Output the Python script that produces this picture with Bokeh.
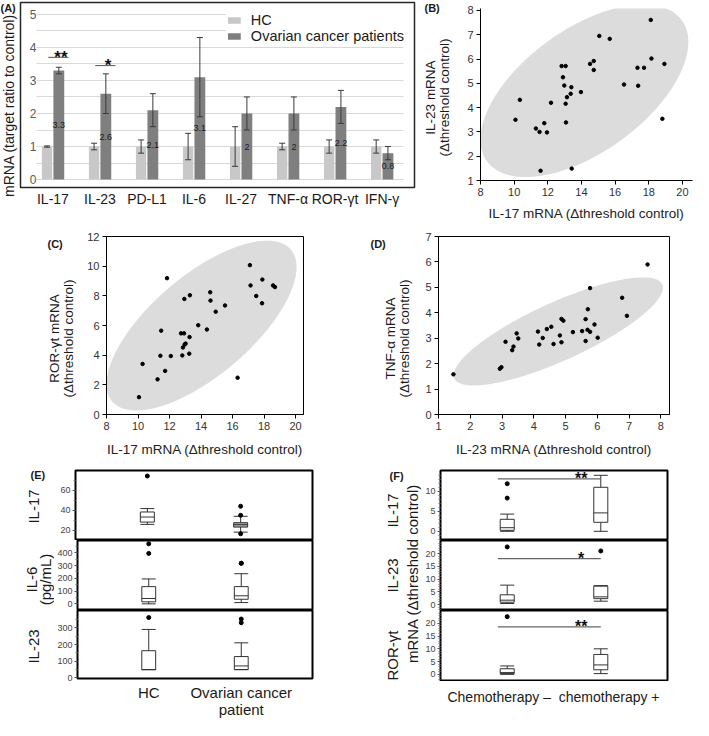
import numpy as np
from math import pi
from bokeh.plotting import figure
from bokeh.models import (ColumnDataSource, FactorRange, Range1d, FixedTicker,
                          SingleIntervalTicker, Label, Legend, LegendItem)
from bokeh.layouts import row, column
from bokeh.transform import dodge
from bokeh.core.properties import value
from bokeh.embed import file_html
from bokeh.resources import INLINE

FONT = "Liberation Sans"

# ---------------- Panel A data ----------------
A_CATS = ["IL-17", "IL-23", "PD-L1", "IL-6", "IL-27", "TNF-α", "ROR-γt", "IFN-γ"]
A_HC = [1, 1, 1, 1, 1, 1, 1, 1]
A_HC_ERR = [0.02, 0.1, 0.2, 0.4, 0.6, 0.1, 0.2, 0.2]
A_OC = [3.3, 2.6, 2.1, 3.1, 2.0, 2.0, 2.2, 0.8]
A_OC_ERR = [0.1, 0.6, 0.5, 1.2, 0.5, 0.5, 0.5, 0.2]
A_OC_LABELS = ["3.3", "2.6", "2.1", "3.1", "2", "2", "2.2", "0.8"]
A_YTICKS = [0, 1, 2, 3, 4, 5]
A_SIG_CATS = ["IL-17", "IL-23"]
A_SIG_Y = [3.7, 3.45]
A_SIG_TEXT = ["**", "*"]

# ---------------- Panel B data (IL-17 vs IL-23) ----------------
B_X = [10.08, 10.34, 11.29, 11.51, 11.79, 11.95, 11.57, 12.19, 12.82, 13.06, 12.90,
       12.98, 13.06, 13.08, 13.14, 13.36, 13.40, 13.42, 13.97, 14.51, 14.73, 14.73,
       15.06, 15.68, 16.53, 17.33, 17.37, 17.72, 18.12, 18.16, 18.93, 18.81]
B_Y = [3.50, 4.32, 3.14, 3.00, 3.36, 2.98, 1.40, 4.20, 5.71, 5.71, 5.25,
       4.91, 4.16, 3.39, 4.43, 4.57, 4.84, 1.49, 4.64, 5.80, 5.92, 5.55,
       6.95, 6.83, 4.95, 5.64, 4.90, 5.64, 7.61, 6.02, 5.80, 3.54]
B_XTICKS = [8, 10, 12, 14, 16, 18, 20]
B_YTICKS = [1, 2, 3, 4, 5, 6, 7, 8]

# ---------------- Panel C data (IL-17 vs ROR-γt) ----------------
C_X = [10.06, 10.29, 11.24, 11.42, 11.47, 11.72, 11.84, 12.08, 12.73, 12.92, 12.81,
       12.85, 12.96, 13.02, 12.94, 13.27, 13.25, 13.29, 13.82, 14.37, 14.58, 14.60,
       14.93, 15.52, 16.32, 17.10, 17.14, 17.50, 17.89, 17.87, 18.57, 18.69]
C_Y = [1.17, 3.41, 2.37, 3.96, 5.65, 2.94, 9.19, 3.94, 5.47, 5.47, 3.98,
       4.52, 4.72, 4.78, 7.79, 5.22, 4.10, 8.04, 6.02, 5.73, 8.24, 7.68,
       6.93, 7.35, 2.48, 10.07, 8.70, 7.99, 9.10, 7.50, 8.70, 8.59]
C_XTICKS = [8, 10, 12, 14, 16, 18, 20]
C_YTICKS = [0, 2, 4, 6, 8, 10, 12]

# ---------------- Panel D data (IL-23 vs TNF-α) ----------------
D_X = [1.47, 2.93, 2.98, 3.11, 3.32, 3.36, 3.46, 3.51, 4.13, 4.17, 4.28, 4.41, 4.55,
       4.62, 4.82, 4.87, 4.87, 4.93, 5.23, 5.52, 5.63, 5.63, 5.69, 5.70, 5.77, 5.77,
       5.91, 6.01, 6.78, 6.93, 7.58]
D_Y = [1.58, 1.80, 1.86, 2.86, 2.53, 2.67, 3.19, 2.99, 3.26, 2.75, 3.01, 3.36, 3.45,
       2.77, 3.11, 2.84, 3.76, 3.69, 3.24, 3.28, 3.75, 2.89, 3.33, 4.14, 3.25, 4.97,
       3.54, 3.02, 4.59, 3.88, 5.90]
D_XTICKS = [1, 2, 3, 4, 5, 6, 7, 8]
D_YTICKS = [0, 1, 2, 3, 4, 5, 6, 7]

# ---------------- Panel E data (serum cytokines, pg/mL) ----------------
E_CATS = ["HC", "Ovarian cancer\npatient"]
E17_LO, E17_Q1, E17_MED, E17_Q3, E17_HI = [26, 18.3], [28.3, 23.3], [33.3, 25.7], [38.3, 27.7], [41.7, 34]
E17_OUT_CAT = ["HC", "Ovarian cancer\npatient", "Ovarian cancer\npatient", "Ovarian cancer\npatient"]
E17_OUT_VAL = [74, 44, 35, 16.7]
E6_LO, E6_Q1, E6_MED, E6_Q3, E6_HI = [0, 10], [16, 36], [42, 63], [135, 135], [195, 236]
E6_OUT_CAT = ["HC", "HC", "Ovarian cancer\npatient", "Ovarian cancer\npatient"]
E6_OUT_VAL = [470, 395, 318, 318]
E23_LO, E23_Q1, E23_MED, E23_Q3, E23_HI = [50, 50], [50, 50], [50, 72], [163, 128], [290, 210]
E23_OUT_CAT = ["HC", "Ovarian cancer\npatient", "Ovarian cancer\npatient"]
E23_OUT_VAL = [361, 352, 330]
E17_TICKS, E6_TICKS, E23_TICKS = [20, 40, 60], [0, 100, 200, 300, 400], [0, 100, 200, 300]

# ---------------- Panel F data (mRNA by chemotherapy) ----------------
F_CATS = ["Chemotherapy –", "chemotherapy +"]
F17_LO, F17_Q1, F17_MED, F17_Q3, F17_HI = [0, 0], [0.25, 2.25], [0.9, 4.6], [3.0, 11.0], [4.3, 14.0]
F17_OUT_CAT = ["Chemotherapy –", "Chemotherapy –"]
F17_OUT_VAL = [11.9, 8.3]
F23_LO, F23_Q1, F23_MED, F23_Q3, F23_HI = [0.4, 1.3], [0.9, 2.3], [1.7, 3.0], [3.8, 7.2], [7.6, 7.4]
F23_OUT_CAT = ["Chemotherapy –", "chemotherapy +"]
F23_OUT_VAL = [22.6, 21.0]
FR_LO, FR_Q1, FR_MED, FR_Q3, FR_HI = [0, 0.3], [0.3, 1.8], [0.7, 3.7], [2.2, 7.8], [3.3, 10.0]
FR_OUT_CAT = ["Chemotherapy –"]
FR_OUT_VAL = [22.6]
F17_TICKS, F23_TICKS, FR_TICKS = [0, 5, 10], [0, 5, 10, 15, 20], [0, 5, 10, 15, 20]
F_SIG_Y = [13.1, 18.0, 18.6]
F_SIG_TEXT = ["**", "*", "**"]

# ---------------- helpers ----------------
BOXC = "#333333"


def mkfig(width, height, x_range, y_range, left, right, top, bottom, **kw):
    p = figure(width=width, height=height, x_range=x_range, y_range=y_range,
               output_backend="svg", toolbar_location=None,
               min_border_left=left, min_border_right=right,
               min_border_top=top, min_border_bottom=bottom, **kw)
    try:
        p.frame_align = False
    except Exception:
        pass
    p.background_fill_color = "white"
    p.border_fill_color = "white"
    p.xgrid.grid_line_color = None
    p.ygrid.grid_line_color = None
    return p


def labfig(width, height):
    p = mkfig(width, height, Range1d(0, 1), Range1d(0, 1), 0, 0, 0, 0,
              x_axis_location=None, y_axis_location=None)
    p.outline_line_color = None
    return p


def lab(p, x, y, text, size, angle=0.0, align="center", baseline="middle",
        bold=False, color="#1a1a1a", lh=1.0):
    p.add_layout(Label(x=x, y=y, x_units="screen", y_units="screen", text=text,
                       angle=angle, text_align=align, text_baseline=baseline,
                       text_font=FONT, text_font_size=f"{size}px",
                       text_font_style="bold" if bold else "normal",
                       text_color=color, text_line_height=lh))


def style_axis(ax, tick_size, tick_color="#333333", line=True, tick_out=4):
    ax.major_label_text_font = FONT
    ax.major_label_text_font_size = f"{tick_size}px"
    ax.major_label_text_color = tick_color
    ax.axis_label_text_font = FONT
    ax.axis_label_text_font_style = "normal"
    ax.axis_label_text_color = "#222222"
    ax.major_tick_in = 0
    ax.major_tick_out = tick_out
    ax.minor_tick_line_color = None
    if not line:
        ax.axis_line_color = None


def ellipse(xs, ys, conf=0.95, n=240):
    x = np.asarray(xs, float)
    y = np.asarray(ys, float)
    cov = np.cov(x, y)
    vals, vecs = np.linalg.eigh(cov)
    k = np.sqrt(-2.0 * np.log(1.0 - conf))
    t = np.linspace(0, 2 * np.pi, n)
    circ = np.vstack([np.cos(t), np.sin(t)])
    pts = vecs @ (np.sqrt(vals)[:, None] * k * circ)
    return x.mean() + pts[0], y.mean() + pts[1]


def scatter_panel(p, xs, ys, xticks, yticks, xlabel, xstand):
    ex, ey = ellipse(xs, ys)
    p.patch(ex, ey, fill_color="#dcdcdc", line_color=None)
    p.scatter(xs, ys, size=3.5, color="black")
    p.xaxis.ticker = FixedTicker(ticks=xticks)
    p.yaxis.ticker = FixedTicker(ticks=yticks)
    for ax in (p.xaxis, p.yaxis):
        style_axis(ax, 11)
        ax.axis_label_text_font_size = "13.5px"
        ax.axis_line_color = "black"
        ax.major_tick_line_color = "black"
        ax.major_label_standoff = 3
    p.xaxis.axis_label = xlabel
    p.xaxis.axis_label_standoff = xstand


def boxes(p, cats, lo, q1, med, q3, hi, fills=None, w=0.15):
    src = ColumnDataSource(dict(cat=cats, lo=lo, q1=q1, med=med, q3=q3, hi=hi,
                                fill=fills or ["white"] * len(cats)))
    p.segment(x0="cat", y0="lo", x1="cat", y1="hi", source=src,
              line_color=BOXC, line_width=1)
    p.vbar(x="cat", bottom="q1", top="q3", width=w, source=src,
           fill_color="fill", line_color=BOXC, line_width=1)
    for col in ("med", "lo", "hi"):
        p.segment(x0=dodge("cat", -w / 2, range=p.x_range), y0=col,
                  x1=dodge("cat", w / 2, range=p.x_range), y1=col, source=src,
                  line_color=BOXC, line_width=1)


def outliers(p, cats, vals):
    p.scatter(x="cat", y="v", source=ColumnDataSource(dict(cat=cats, v=vals)),
              size=4, color="black")


def box_axis(p, ticks, minor):
    p.yaxis.ticker = FixedTicker(ticks=ticks, minor_ticks=minor)
    ax = p.yaxis[0]
    ax.major_label_text_font = FONT
    ax.major_label_text_font_size = "9px"
    ax.major_label_text_color = "#444444"
    ax.major_label_standoff = 2
    ax.axis_line_color = None
    ax.major_tick_in = 0
    ax.major_tick_out = 3
    ax.minor_tick_in = 0
    ax.minor_tick_out = 2
    ax.major_tick_line_color = "#555555"
    ax.minor_tick_line_color = "#777777"
    p.outline_line_color = "black"
    p.outline_line_width = 2


# ---------------- Panel A ----------------
xrA = FactorRange(factors=A_CATS, range_padding=0.19, range_padding_units="absolute")
pA = mkfig(403, 224, xrA, Range1d(-0.24, 5.36), 1, 8, 2, 37)
try:
    pA.ygrid.cross_bounds = (0.15, 7.95)
except Exception:
    pass
pA.ygrid.ticker = SingleIntervalTicker(interval=0.5)
pA.ygrid.grid_line_color = "#d9d9d9"
pA.ygrid.grid_line_width = 1
pA.outline_line_color = "#262626"
pA.outline_line_width = 1.5

srcA = ColumnDataSource(dict(
    cat=A_CATS, hc=A_HC, oc=A_OC,
    hc_lo=[v - e for v, e in zip(A_HC, A_HC_ERR)], hc_hi=[v + e for v, e in zip(A_HC, A_HC_ERR)],
    oc_lo=[v - e for v, e in zip(A_OC, A_OC_ERR)], oc_hi=[v + e for v, e in zip(A_OC, A_OC_ERR)],
    oc_mid=[v / 2 for v in A_OC], oc_lbl=A_OC_LABELS))
OFF = 0.125
rhc = pA.vbar(x=dodge("cat", -OFF, range=xrA), top="hc", bottom=0, width=0.22,
              fill_color="#c8c8c8", line_color=None, source=srcA)
roc = pA.vbar(x=dodge("cat", OFF, range=xrA), top="oc", bottom=0, width=0.23,
              fill_color="#7f7f7f", line_color=None, source=srcA)
for off, lo, hi in ((-OFF, "hc_lo", "hc_hi"), (OFF, "oc_lo", "oc_hi")):
    pA.segment(x0=dodge("cat", off, range=xrA), y0=lo, x1=dodge("cat", off, range=xrA), y1=hi,
               source=srcA, line_color="#3a3a3a", line_width=1)
    for c in (lo, hi):
        pA.scatter(x=dodge("cat", off, range=xrA), y=c, source=srcA, marker="dash",
                   size=6, line_color="#3a3a3a", line_width=1)
pA.text(x=dodge("cat", OFF, range=xrA), y="oc_mid", text="oc_lbl", source=srcA,
        text_font=value(FONT), text_font_size="9px", text_align="center",
        text_baseline="middle", text_color="#1a1a1a")
srcAs = ColumnDataSource(dict(cat=A_SIG_CATS, y=A_SIG_Y, txt=A_SIG_TEXT))
pA.segment(x0=dodge("cat", -0.1, range=xrA), y0="y", x1=dodge("cat", 0.33, range=xrA), y1="y",
           source=srcAs, line_color="#555555", line_width=1)
pA.text(x=dodge("cat", 0.17, range=xrA), y="y", text="txt", source=srcAs,
        text_font=value(FONT), text_font_size="17px", text_font_style="bold",
        text_align="center", text_baseline="middle", text_color="#111111")

pA.yaxis.ticker = FixedTicker(ticks=A_YTICKS)
style_axis(pA.yaxis[0], 12, "#595959", line=False, tick_out=0)
pA.yaxis.major_tick_line_color = None
pA.yaxis.major_label_standoff = -16
style_axis(pA.xaxis[0], 14, "#1a1a1a", line=False, tick_out=0)
pA.xaxis.major_tick_line_color = None
pA.xaxis.major_label_standoff = 3

legA = Legend(items=[LegendItem(label="HC", renderers=[rhc]),
                     LegendItem(label="Ovarian cancer patients", renderers=[roc])],
              location="top_right", margin=10, padding=1, spacing=0,
              glyph_width=16, glyph_height=8, label_standoff=9, label_height=8,
              label_text_font=FONT, label_text_font_size="14.5px",
              label_text_color="#1a1a1a", label_text_line_height=0.75,
              border_line_color=None, background_fill_color="white",
              background_fill_alpha=1.0)
pA.add_layout(legA)

lblA = labfig(19, 224)
lab(lblA, 8, 119, "mRNA (target ratio to control)", 14, angle=pi / 2)
lab(lblA, 0, 223, "(A)", 11, align="left", baseline="top", bold=True)

# ---------------- Panel B ----------------
pB = mkfig(229, 224, Range1d(8, 20.6), Range1d(1, 8.08), 16, 1, 8, 44)
pB.outline_line_color = None
scatter_panel(pB, B_X, B_Y, B_XTICKS, B_YTICKS, "IL-17 mRNA (Δthreshold control)", 7)
lblB = labfig(42, 224)
lab(lblB, 2, 223, "(B)", 11, align="left", baseline="top", bold=True)
lab(lblB, 15, 127, "IL-23 mRNA\n(Δthreshold control)", 13.5, angle=pi / 2, lh=0.95)

# ---------------- Panel C ----------------
pC = mkfig(276, 235, Range1d(8, 20.5), Range1d(0, 12), 20, 57, 12, 42)
pC.outline_line_color = "black"
scatter_panel(pC, C_X, C_Y, C_XTICKS, C_YTICKS, "IL-17 mRNA (Δthreshold control)", 9)
lblC = labfig(84, 235)
lab(lblC, 47, 222, "(C)", 11, align="left", baseline="top", bold=True)
lab(lblC, 61, 121, "ROR-γt mRNA\n(Δthreshold control)", 13.5, angle=pi / 2, lh=0.95)

# ---------------- Panel D ----------------
pD = mkfig(275, 235, Range1d(1, 8.27), Range1d(0, 7), 20, 24, 12, 42)
pD.outline_line_color = "black"
scatter_panel(pD, D_X, D_Y, D_XTICKS, D_YTICKS, "IL-23 mRNA (Δthreshold control)", 9)
lblD = labfig(58, 235)
lab(lblD, 10, 222, "(D)", 11, align="left", baseline="top", bold=True)
lab(lblD, 37, 121, "TNF-α mRNA\n(Δthreshold control)", 13.5, angle=pi / 2, lh=0.95)

# ---------------- Panel E ----------------
xrE = FactorRange(factors=E_CATS, range_padding=0.27, range_padding_units="absolute")
e1 = mkfig(306, 81, xrE, Range1d(10, 79.5), 21, 48, 11, 0, x_axis_location=None)
e2 = mkfig(306, 70, xrE, Range1d(-52, 496), 21, 48, 0, 0, x_axis_location=None)
e3 = mkfig(306, 110, xrE, Range1d(-3, 403), 21, 48, 0, 40)
boxes(e1, E_CATS, E17_LO, E17_Q1, E17_MED, E17_Q3, E17_HI, fills=["white", "#a6a6a6"])
outliers(e1, E17_OUT_CAT, E17_OUT_VAL)
boxes(e2, E_CATS, E6_LO, E6_Q1, E6_MED, E6_Q3, E6_HI)
outliers(e2, E6_OUT_CAT, E6_OUT_VAL)
boxes(e3, E_CATS, E23_LO, E23_Q1, E23_MED, E23_Q3, E23_HI)
outliers(e3, E23_OUT_CAT, E23_OUT_VAL)
box_axis(e1, E17_TICKS, [10, 30, 50, 70])
box_axis(e2, E6_TICKS, [-50, 50, 150, 250, 350, 450])
box_axis(e3, E23_TICKS, [50, 150, 250, 350])
style_axis(e3.xaxis[0], 15, "#1a1a1a", line=False, tick_out=0)
e3.xaxis.major_tick_line_color = None
e3.xaxis.major_label_standoff = 5
e3.xaxis.major_label_text_line_height = 1.0

lblE = labfig(54, 261)
lab(lblE, 33, 214, "IL-17", 15, angle=pi / 2)
lab(lblE, 38, 141, "IL-6\n(pg/mL)", 15, angle=pi / 2, lh=0.87)
lab(lblE, 33, 74, "IL-23", 15, angle=pi / 2)
lab(lblE, 30, 252, "(E)", 11, align="left", baseline="top", bold=True)

# ---------------- Panel F ----------------
xrF = FactorRange(factors=F_CATS, range_padding=0.213, range_padding_units="absolute")
f1 = mkfig(271, 81, xrF, Range1d(-2.3, 15.2), 17, 26, 11, 0, x_axis_location=None)
f2 = mkfig(271, 70, xrF, Range1d(-2.35, 25.1), 17, 26, 0, 0, x_axis_location=None)
f3 = mkfig(271, 71, xrF, Range1d(-2.4, 25.0), 17, 26, 0, 1, x_axis_location=None)
boxes(f1, F_CATS, F17_LO, F17_Q1, F17_MED, F17_Q3, F17_HI)
outliers(f1, F17_OUT_CAT, F17_OUT_VAL)
boxes(f2, F_CATS, F23_LO, F23_Q1, F23_MED, F23_Q3, F23_HI)
outliers(f2, F23_OUT_CAT, F23_OUT_VAL)
boxes(f3, F_CATS, FR_LO, FR_Q1, FR_MED, FR_Q3, FR_HI)
outliers(f3, FR_OUT_CAT, FR_OUT_VAL)
box_axis(f1, F17_TICKS, [v for v in range(-2, 16) if v % 5])
box_axis(f2, F23_TICKS, [v for v in range(-2, 26) if v % 5])
box_axis(f3, FR_TICKS, [v for v in range(-2, 26) if v % 5])
for fp, sy, st in zip((f1, f2, f3), F_SIG_Y, F_SIG_TEXT):
    s = ColumnDataSource(dict(c0=[F_CATS[0]], c1=[F_CATS[1]], y=[sy], t=[st]))
    fp.segment(x0=dodge("c0", -0.1, range=xrF), y0="y", x1=dodge("c1", 0.0, range=xrF), y1="y",
               source=s, line_color="#666666", line_width=1.2)
    fp.text(x=dodge("c1", -0.21, range=xrF), y="y", text="t", source=s,
            text_font=value(FONT), text_font_size="16px", text_font_style="bold",
            text_align="center", text_baseline="middle", text_color="#111111")
fx = labfig(271, 39)
lab(fx, 131, 24, "Chemotherapy –\u00a0 chemotherapy +", 14)

lblF = labfig(62, 261)
lab(lblF, 32, 210, "IL-17", 15, angle=pi / 2)
lab(lblF, 32, 145, "IL-23", 15, angle=pi / 2)
lab(lblF, 32, 65, "ROR-γt", 15, angle=pi / 2)
lab(lblF, 52, 147, "mRNA (Δthreshold control)", 15, angle=pi / 2)
lab(lblF, 29, 251, "(F)", 11, align="left", baseline="top", bold=True)

# ---------------- layout ----------------
layout = column(
    row(lblA, pA, lblB, pB),
    row(lblC, pC, lblD, pD),
    row(lblE, column(e1, e2, e3), lblF, column(f1, f2, f3, fx)),
)

open("out.html", "w").write(file_html(layout, INLINE))
